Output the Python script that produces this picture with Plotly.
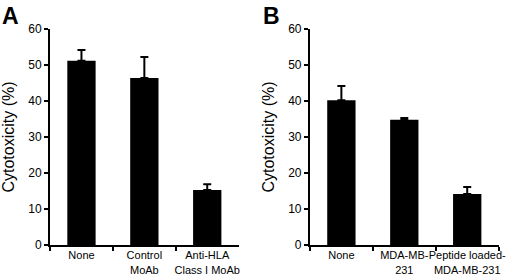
import plotly.graph_objects as go

# Panel A
cats_a = ["None", "Control<br>MoAb", "Anti-HLA<br>Class I MoAb"]
vals_a = [51.2, 46.4, 15.3]
err_a = [3.0, 5.8, 1.6]

# Panel B
cats_b = ["None", "MDA-MB-<br>231", "Peptide loaded-<br>MDA-MB-231"]
vals_b = [40.2, 34.8, 14.2]
err_b = [4.0, 0.5, 1.9]

y_ticks = [0, 10, 20, 30, 40, 50, 60]
y_title = "Cytotoxicity (%)"
panel_labels = ["A", "B"]

FONT = "Liberation Sans, Arial, sans-serif"

fig = go.Figure()
for i, (cats, vals, errs) in enumerate([(cats_a, vals_a, err_a), (cats_b, vals_b, err_b)]):
    suffix = "" if i == 0 else "2"
    fig.add_trace(go.Bar(
        x=cats, y=vals,
        xaxis="x" + suffix, yaxis="y" + suffix,
        width=0.45,
        marker=dict(color="black", line=dict(width=0)),
        error_y=dict(type="data", array=errs, arrayminus=[0] * len(errs),
                     symmetric=False, color="black", thickness=2, width=4),
        showlegend=False,
    ))

xcommon = dict(
    type="category", range=[-0.5, 2.5], showline=True, linecolor="black", linewidth=2,
    ticks="outside", tickson="boundaries", ticklen=4, tickwidth=1.5, tickcolor="black",
    tickangle=0, automargin=False, ticklabelstandoff=-1,
    showgrid=False, zeroline=False, tickfont=dict(size=11, color="black", family=FONT),
    fixedrange=True,
)
ycommon = dict(
    range=[0, 60], tickvals=y_ticks, showline=True, linecolor="black", linewidth=2,
    ticks="outside", ticklen=4, tickwidth=1.5, tickcolor="black", automargin=False,
    showgrid=False, zeroline=False, tickfont=dict(size=12, color="black", family=FONT),
    title=dict(text=y_title, font=dict(size=16, color="black", family=FONT), standoff=10),
    fixedrange=True,
)

fig.update_layout(
    width=520, height=278,
    margin=dict(l=0, r=0, t=29, b=33),
    paper_bgcolor="white", plot_bgcolor="white",
    font=dict(family=FONT, color="black"),
    bargap=0.55,
    xaxis=dict(domain=[0.0962, 0.459], anchor="y", **xcommon),
    yaxis=dict(domain=[0, 1], anchor="x", **ycommon),
    xaxis2=dict(domain=[0.596, 0.959], anchor="y2", **xcommon),
    yaxis2=dict(domain=[0, 1], anchor="x2", **ycommon),
    annotations=[
        dict(text="<b>A</b>", x=0.0, y=1.0, xref="paper", yref="paper", yshift=28,
             xanchor="left", yanchor="top", showarrow=False,
             font=dict(size=23, color="black", family=FONT)),
        dict(text="<b>B</b>", x=0.502, y=1.0, xref="paper", yref="paper", yshift=28,
             xanchor="left", yanchor="top", showarrow=False,
             font=dict(size=23, color="black", family=FONT)),
    ],
)

fig.write_html(
    "out.html",
    config={"displayModeBar": False},
    post_script="document.body.style.margin='0';document.body.style.overflow='hidden';",
)
